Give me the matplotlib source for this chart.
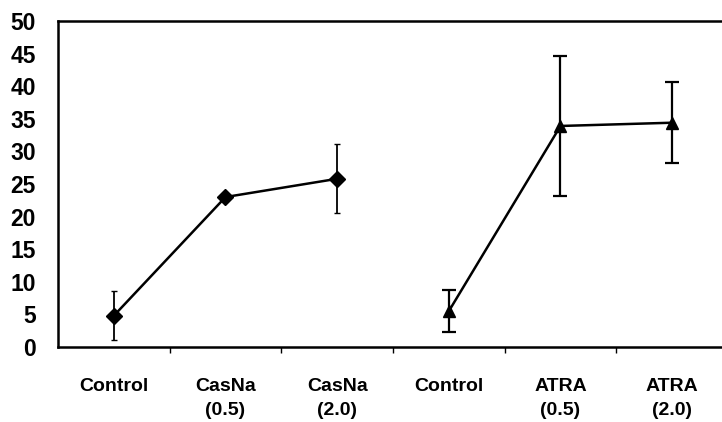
import matplotlib.pyplot as plt
import numpy as np

# data
labels = ["Control", "CasNa\n(0.5)", "CasNa\n(2.0)", "Control", "ATRA\n(0.5)", "ATRA\n(2.0)"]
casna_mean = [4.8, 23.0, 25.8]
casna_err = [3.8, 0.5, 5.3]
atra_mean = [5.5, 33.9, 34.4]
atra_err = [3.2, 10.8, 6.2]

plt.rcParams["font.family"] = ["Liberation Sans", "DejaVu Sans"]

fig = plt.figure(figsize=(7.22, 4.22), dpi=100)
ax = fig.add_axes([58 / 722, 75 / 422, 670 / 722, 326 / 422])

x_casna = np.arange(3)
x_atra = np.arange(3, 6)

ax.errorbar(x_casna, casna_mean, yerr=casna_err, color="black", lw=1.8,
            marker="D", ms=8, capsize=2, elinewidth=1.3)
ax.errorbar(x_atra, atra_mean, yerr=atra_err, color="black", lw=1.8,
            marker="^", ms=8, capsize=5, elinewidth=1.6, capthick=1.6)

ax.set_xlim(-0.5, 5.5)
ax.set_ylim(0, 50)
ax.set_yticks(range(0, 51, 5))
ax.set_xticks(range(6))
ax.set_xticklabels(labels, fontsize=14, fontweight="bold", va="top", linespacing=1.6)
ax.set_xticks(np.arange(0.5, 5, 1), minor=True)
ax.tick_params(axis="x", which="major", length=0, pad=22)
ax.tick_params(axis="x", which="minor", length=4, width=1, direction="out")
ax.tick_params(axis="y", length=0, pad=16, labelsize=16.5)
for t in ax.get_yticklabels():
    t.set_fontweight("bold")

for s in ["left", "top", "bottom"]:
    ax.spines[s].set_linewidth(1.8)
ax.spines["right"].set_visible(False)

fig.savefig("out.png", dpi=100)
